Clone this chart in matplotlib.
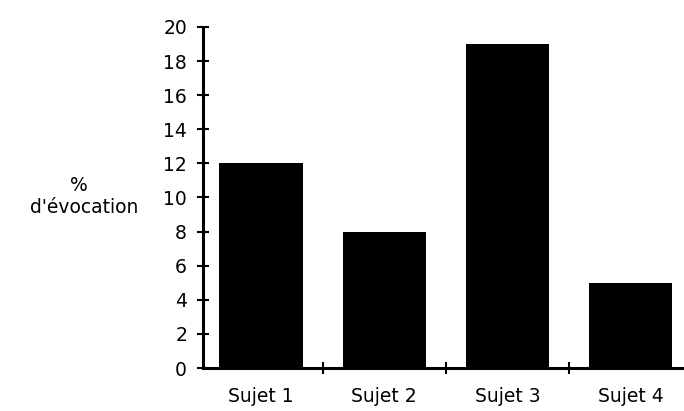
import matplotlib
matplotlib.use("Agg")
import matplotlib.pyplot as plt

categories = ["Sujet 1", "Sujet 2", "Sujet 3", "Sujet 4"]
values = [12, 8, 19, 5]
yticks = list(range(0, 21, 2))

fs = 13.5
fig = plt.figure(figsize=(6.84, 4.11), dpi=100)
ax = fig.add_axes([203/684, 43/411, 481/684, 341/411])
x = list(range(len(categories)))
ax.bar(x, values, width=0.675, color="black")
ax.set_xlim(-0.470, 3.431)
ax.set_ylim(0, 20)
ax.set_yticks(yticks)
ax.set_yticklabels([str(t) for t in yticks], fontsize=fs, family="DejaVu Sans")
ax.set_xticks(x)
ax.set_xticklabels(categories, fontsize=fs, family="DejaVu Sans")
ax.set_xticks([0.5, 1.5, 2.5], minor=True)
ax.tick_params(axis="x", which="major", length=0, pad=14)
ax.tick_params(axis="x", which="minor", direction="inout", length=9, width=1.5)
ax.tick_params(axis="y", direction="inout", length=9, width=1.5, pad=7)
for s in ["top", "right"]:
    ax.spines[s].set_visible(False)
for s in ["left", "bottom"]:
    ax.spines[s].set_linewidth(2.2)
fig.text(79/684, 1 - 185/411, "%", ha="center", va="center", fontsize=fs, family="DejaVu Sans")
fig.text(138/684, 1 - 207/411, "d'évocation", ha="right", va="center", fontsize=fs, family="DejaVu Sans")
fig.savefig("out.png", dpi=100)
